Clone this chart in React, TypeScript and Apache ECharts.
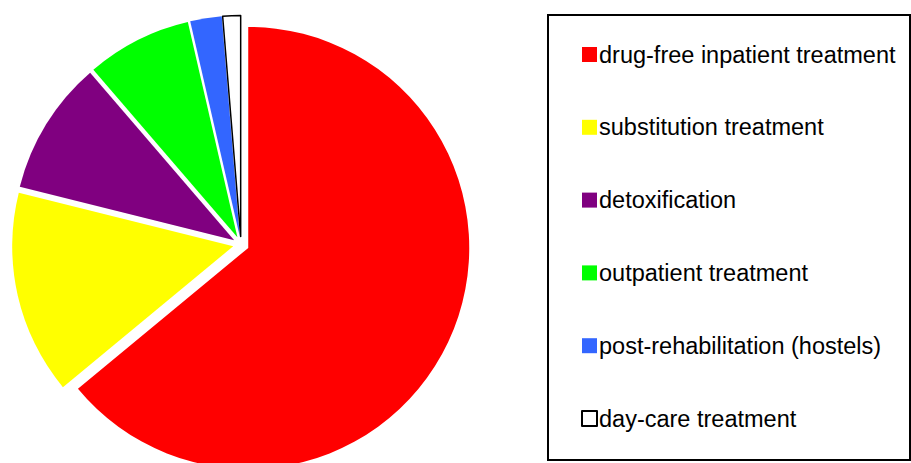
import React, { useEffect, useRef } from "react";
import * as echarts from "echarts";

const categories = [
  "drug-free inpatient treatment",
  "substitution treatment",
  "detoxification",
  "outpatient treatment",
  "post-rehabilitation (hostels)",
  "day-care treatment",
];
const values = [64.0, 14.9, 9.8, 7.7, 2.3, 1.3];
const colors = ["#ff0000", "#ffff00", "#800080", "#00ff00", "#3366ff", "#ffffff"];

export default function App() {
  const ref = useRef<HTMLDivElement>(null);
  useEffect(() => {
    document.body.style.margin = "0";
    const chart = echarts.init(ref.current!, null, { renderer: "svg" });
    const data = categories.map((name, i) => ({
      name,
      value: values[i],
      selected: true,
      itemStyle:
        i === categories.length - 1
          ? { color: colors[i], borderColor: "#000000", borderWidth: 1.5 }
          : { color: colors[i], borderWidth: 0 },
    }));
    chart.setOption({
      animation: false,
      backgroundColor: "#ffffff",
      legend: {
        orient: "vertical",
        left: 576,
        top: 37.5,
        itemWidth: 15,
        itemHeight: 15,
        itemGap: 48.8,
        icon: "rect",
        selectedMode: false,
        data: categories,
        textStyle: {
          fontFamily: "Liberation Sans, Arial, sans-serif",
          fontSize: 23.5,
          lineHeight: 22,
          padding: [0, 0, 0, -3],
          color: "#000000",
        },
      },
      graphic: [
        {
          type: "rect",
          shape: { x: 548, y: 15, width: 362, height: 445 },
          style: { fill: "none", stroke: "#000000", lineWidth: 2 },
          silent: true,
        },
      ],
      series: [
        {
          type: "pie",
          center: [241, 244.5],
          radius: 221,
          startAngle: 90,
          clockwise: true,
          selectedMode: "multiple",
          selectedOffset: 8,
          label: { show: false },
          labelLine: { show: false },
          emphasis: { disabled: true },
          silent: true,
          data,
        },
      ],
    });
    return () => chart.dispose();
  }, []);
  return <div ref={ref} style={{ width: 911, height: 463 }} />;
}
